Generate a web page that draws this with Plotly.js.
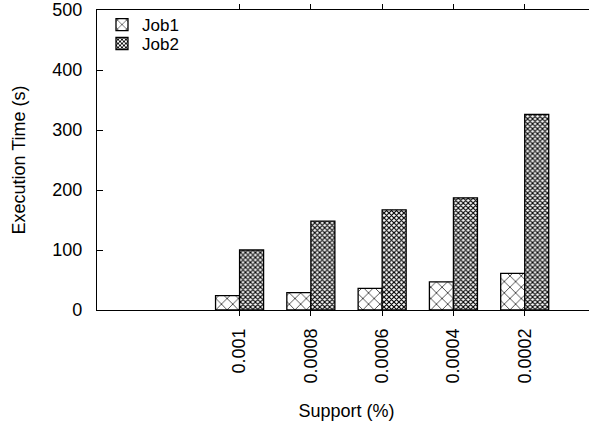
<!DOCTYPE html>
<html>
<head>
<meta charset="utf-8">
<script src="https://cdn.plot.ly/plotly-3.0.1.min.js"></script>
<style>
html, body { margin:0; padding:0; overflow:hidden; background:#fff; }
#chart { width:596px; height:430px; }
</style>
</head>
<body>
<div id="chart"></div>
<script>
const supports = ['0.001', '0.0008', '0.0006', '0.0004', '0.0002'];
const job1 = [24, 29, 36, 47, 61];
const job2 = [100, 148, 167, 187, 326];
const yTicks = [0, 100, 200, 300, 400, 500];

const FONT = 'Liberation Sans, Arial, Helvetica, sans-serif';

const traces = [
  {
    type: 'bar', name: 'Job1', x: supports, y: job1, legend: 'legend',
    marker: {
      color: 'white',
      line: {color: 'black', width: 1.3},
      pattern: {shape: 'x', size: 8, solidity: 0.16, fgcolor: 'black', bgcolor: 'white'}
    }
  },
  {
    type: 'bar', name: 'Job2', x: supports, y: job2, legend: 'legend2',
    marker: {
      color: 'white',
      line: {color: 'black', width: 1.3},
      pattern: {shape: 'x', size: 3.5, solidity: 0.55, fgcolor: 'black', bgcolor: 'white'}
    }
  }
];

const layout = {
  width: 596, height: 430,
  margin: {l: 97, r: 0, t: 10, b: 120},
  paper_bgcolor: 'white', plot_bgcolor: 'white',
  font: {family: FONT, size: 18, color: 'black'},
  barmode: 'group', bargap: 0.326, bargroupgap: 0,
  xaxis: {
    type: 'category',
    categoryorder: 'array', categoryarray: supports,
    range: [-2, 5],
    showline: true, linecolor: 'black', linewidth: 1.2,
    mirror: 'ticks',
    ticks: 'outside', ticklen: 5, tickcolor: 'black', tickwidth: 1,
    tickangle: -90,
    showgrid: false, zeroline: false,
    ticklabelstandoff: 5,
    title: {text: 'Support (%)', font: {size: 18}, standoff: 22}
  },
  yaxis: {
    range: [0, 500],
    tickvals: yTicks,
    showline: true, linecolor: 'black', linewidth: 1.2,
    ticks: 'inside', ticklen: 6, tickcolor: 'black', tickwidth: 1,
    showgrid: false, zeroline: false,
    ticklabelstandoff: 10,
    title: {text: 'Execution Time (s)', font: {size: 18}, standoff: 21}
  },
  legend: {
    x: 0.01, y: 1 - 15/300.5, xanchor: 'left', yanchor: 'middle',
    bgcolor: 'rgba(0,0,0,0)', borderwidth: 0,
    font: {size: 17}
  },
  legend2: {
    x: 0.01, y: 1 - 34/300.5, xanchor: 'left', yanchor: 'middle',
    bgcolor: 'rgba(0,0,0,0)', borderwidth: 0,
    font: {size: 17}
  },
  showlegend: true
};

Plotly.newPlot('chart', traces, layout, {displayModeBar: false, staticPlot: true});
</script>
</body>
</html>
